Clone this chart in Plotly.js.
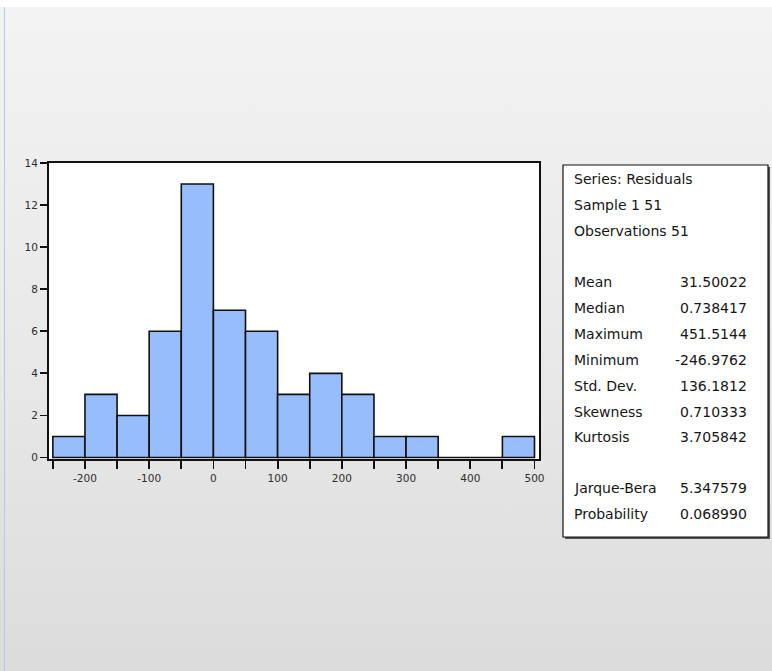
<!DOCTYPE html>
<html>
<head>
<meta charset="utf-8">
<script src="https://cdn.plot.ly/plotly-3.0.1.min.js"></script>
<style>
  html, body { margin: 0; padding: 0; width: 772px; height: 671px; overflow: hidden; }
  body { background: linear-gradient(to bottom, #ffffff 0px, #ffffff 7px, #f3f3f3 7px, #e8e8e8 55%, #dcdcdc 100%); position: relative; }
  #edge { position: absolute; left: 4px; top: 7px; width: 1px; height: 664px; background: #aecbee; }
  #chart { position: absolute; left: 0; top: 0; width: 772px; height: 671px; }
</style>
</head>
<body>
<div id="edge"></div>
<div id="chart"></div>
<script>
// ---- data ----
const binEdges = [-250, -200, -150, -100, -50, 0, 50, 100, 150, 200, 250, 300, 350, 400, 450, 500];
const counts   = [1, 3, 2, 6, 13, 7, 6, 3, 4, 3, 1, 1, 0, 0, 1];
const xTickVals = [-250, -200, -150, -100, -50, 0, 50, 100, 150, 200, 250, 300, 350, 400, 450, 500];
const xTickText = ["", "-200", "", "-100", "", "0", "", "100", "", "200", "", "300", "", "400", "", "500"];
const yTickVals = [0, 2, 4, 6, 8, 10, 12, 14];
const headerLines = ["Series: Residuals", "Sample 1 51", "Observations 51"];
const statLabels = ["Mean", "Median", "Maximum", "Minimum", "Std. Dev.", "Skewness", "Kurtosis"];
const statValues = ["31.50022", "0.738417", "451.5144", "-246.9762", "136.1812", "0.710333", "3.705842"];
const testLabels = ["Jarque-Bera", "Probability"];
const testValues = ["5.347579", "0.068990"];

// ---- geometry (layout only) ----
const L = 49, R = 539, T = 163, B = 459;
const W = R - L, H = B - T;
const px = x => (x - L) / W;
const py = y => (B - y) / H;

const centers = [], widths = [];
for (let i = 0; i < counts.length; i++) {
  centers.push((binEdges[i] + binEdges[i + 1]) / 2);
  widths.push(binEdges[i + 1] - binEdges[i]);
}

const trace = {
  type: 'bar',
  x: centers,
  y: counts,
  width: widths,
  marker: { color: '#98bdfd', line: { color: '#111111', width: 1.6 } },
  hoverinfo: 'x+y'
};

const fontTxt = { family: 'DejaVu Sans, Arial, sans-serif', size: 14, color: '#161616' };
const annotations = [];
const rowY = [179, 205, 231];
headerLines.forEach((t, i) => annotations.push({
  xref: 'paper', yref: 'paper', x: px(572), y: py(rowY[i]), xanchor: 'left', yanchor: 'middle',
  text: t, showarrow: false, font: fontTxt
}));
const statY = [282, 308, 334, 360, 386, 411.5, 437];
statLabels.forEach((t, i) => {
  annotations.push({ xref: 'paper', yref: 'paper', x: px(572), y: py(statY[i]), xanchor: 'left', yanchor: 'middle',
    text: t, showarrow: false, font: fontTxt });
  annotations.push({ xref: 'paper', yref: 'paper', x: px(749), y: py(statY[i]), xanchor: 'right', yanchor: 'middle',
    text: statValues[i], showarrow: false, font: fontTxt });
});
const testY = [488, 514];
testLabels.forEach((t, i) => {
  annotations.push({ xref: 'paper', yref: 'paper', x: px(572), y: py(testY[i]), xanchor: 'left', yanchor: 'middle',
    text: t, showarrow: false, font: fontTxt });
  annotations.push({ xref: 'paper', yref: 'paper', x: px(749), y: py(testY[i]), xanchor: 'right', yanchor: 'middle',
    text: testValues[i], showarrow: false, font: fontTxt });
});

const shapes = [
  { type: 'rect', xref: 'paper', yref: 'paper', x0: px(565), x1: px(770), y0: py(167), y1: py(539),
    fillcolor: '#555555', line: { width: 0 }, layer: 'below' },
  { type: 'rect', xref: 'paper', yref: 'paper', x0: px(563), x1: px(768), y0: py(165), y1: py(537),
    fillcolor: '#ffffff', line: { color: '#111111', width: 1.2 }, layer: 'below' }
];

const tickFont = { family: 'DejaVu Sans, Arial, sans-serif', size: 10.5, color: '#2e2e2e' };

const layout = {
  width: 772, height: 671,
  margin: { l: L, r: 772 - R, t: T, b: 671 - B, pad: 0 },
  paper_bgcolor: 'rgba(0,0,0,0)',
  plot_bgcolor: '#ffffff',
  showlegend: false,
  bargap: 0,
  xaxis: {
    range: [-256, 507], showgrid: false, zeroline: false,
    tickmode: 'array', tickvals: xTickVals, ticktext: xTickText,
    ticks: 'outside', ticklen: 8, tickwidth: 1.8, tickcolor: '#111111',
    showline: true, linecolor: '#111111', linewidth: 2, mirror: true,
    tickfont: tickFont
  },
  yaxis: {
    range: [-0.07, 14], showgrid: false, zeroline: false,
    tickmode: 'array', tickvals: yTickVals,
    ticks: 'outside', ticklen: 7, tickwidth: 1.8, tickcolor: '#111111',
    showline: true, linecolor: '#111111', linewidth: 2, mirror: true,
    tickfont: tickFont
  },
  shapes: shapes,
  annotations: annotations
};

Plotly.newPlot('chart', [trace], layout, { displayModeBar: false, staticPlot: true });
</script>
</body>
</html>
